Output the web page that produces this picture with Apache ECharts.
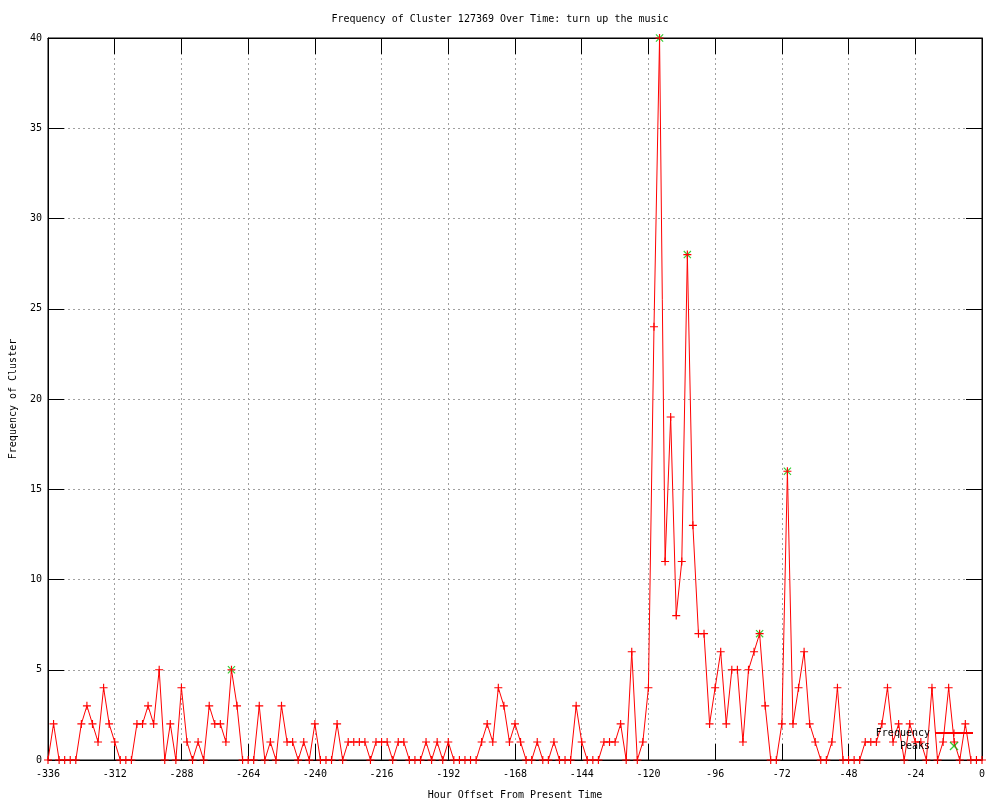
<!DOCTYPE html>
<html>
<head>
<meta charset="utf-8">
<title>Frequency of Cluster 127369 Over Time</title>
<script src="https://cdn.jsdelivr.net/npm/echarts@6/dist/echarts.min.js"></script>
<style>
  html, body { margin: 0; padding: 0; background: #fff; }
  #chart { width: 1000px; height: 800px; }
</style>
</head>
<body>
<div id="chart"></div>
<script>
// one count every 2 hours, from -336 h up to now
const startHour = -336;
const stepHours = 2;

// 12 values = 24 hours per row
const frequency = [
  0, 2, 0, 0, 0, 0, 2, 3, 2, 1, 4, 2,
  1, 0, 0, 0, 2, 2, 3, 2, 5, 0, 2, 0,
  4, 1, 0, 1, 0, 3, 2, 2, 1, 5, 3, 0,
  0, 0, 3, 0, 1, 0, 3, 1, 1, 0, 1, 0,
  2, 0, 0, 0, 2, 0, 1, 1, 1, 1, 0, 1,
  1, 1, 0, 1, 1, 0, 0, 0, 1, 0, 1, 0,
  1, 0, 0, 0, 0, 0, 1, 2, 1, 4, 3, 1,
  2, 1, 0, 0, 1, 0, 0, 1, 0, 0, 0, 3,
  1, 0, 0, 0, 1, 1, 1, 2, 0, 6, 0, 1,
  4, 24, 40, 11, 19, 8, 11, 28, 13, 7, 7, 2,
  4, 6, 2, 5, 5, 1, 5, 6, 7, 3, 0, 0,
  2, 16, 2, 4, 6, 2, 1, 0, 0, 1, 4, 0,
  0, 0, 0, 1, 1, 1, 2, 4, 1, 2, 0, 2,
  1, 1, 0, 4, 0, 1, 4, 1, 0, 2, 0, 0,
  0
];

const peakHours = [-270, -116, -106, -80, -70];
const peakValues = [5, 40, 28, 7, 16];

const font = "DejaVu Sans Mono";
const plusSymbol = "path://M3,0H4V3H7V4H4V7H3V4H0V3H3Z";
const crossSymbol = "path://M0,0.7L0.7,0L7,6.3L6.3,7Z M0,6.3L6.3,0L7,0.7L0.7,7Z";

const freqData = frequency.map((v, i) => [startHour + i * stepHours, v]);
const peakData = peakHours.map((h, i) => [h, peakValues[i]]);

const chart = echarts.init(document.getElementById("chart"));

function tick() {
  return { show: true, inside: true, length: 16, lineStyle: { color: "#000" } };
}
function line() {
  // onZero off, or the mirror axes jump onto the zero lines
  return { show: true, onZero: false, lineStyle: { color: "#000", width: 1 } };
}
const grid = { show: true, lineStyle: { color: "#a0a0a0", type: [2, 3], width: 1 } };

chart.setOption({
  animation: false,
  backgroundColor: "#fff",
  textStyle: { fontFamily: font, color: "#000" },
  title: {
    text: "Frequency of Cluster 127369 Over Time: turn up the music",
    left: "center",
    top: 9,
    textStyle: { fontFamily: font, fontSize: 10, fontWeight: "normal", color: "#000" },
  },
  legend: {
    data: ["Frequency", "Peaks"],
    orient: "vertical",
    align: "right",
    right: 21,
    top: 723,
    itemWidth: 38,
    itemHeight: 9,
    itemGap: 3,
    textStyle: { fontFamily: font, fontSize: 10, color: "#000" },
  },
  grid: {
    left: 48,
    right: 18,
    top: 38,
    bottom: 40,
    outerBoundsMode: "none",
    show: true,
    borderColor: "#000",
    borderWidth: 1,
  },
  xAxis: [
    {
      type: "value",
      min: -336,
      max: 0,
      interval: 24,
      name: "Hour Offset From Present Time",
      nameLocation: "middle",
      nameGap: 30,
      nameTextStyle: { fontFamily: font, fontSize: 10, color: "#000" },
      axisLine: line(),
      axisTick: tick(),
      axisLabel: { margin: 9, fontFamily: font, fontSize: 10, color: "#000" },
      splitLine: grid,
    },
    {
      type: "value",
      position: "top",
      min: -336,
      max: 0,
      interval: 24,
      axisLine: line(),
      axisTick: tick(),
      axisLabel: { show: false },
      splitLine: { show: false },
    },
  ],
  yAxis: [
    {
      type: "value",
      min: 0,
      max: 40,
      interval: 5,
      name: "Frequency of Cluster",
      nameLocation: "middle",
      nameGap: 30,
      nameTextStyle: { fontFamily: font, fontSize: 10, color: "#000" },
      axisLine: line(),
      axisTick: tick(),
      axisLabel: { margin: 6, fontFamily: font, fontSize: 10, color: "#000" },
      splitLine: grid,
    },
    {
      type: "value",
      position: "right",
      min: 0,
      max: 40,
      interval: 5,
      axisLine: line(),
      axisTick: tick(),
      axisLabel: { show: false },
      splitLine: { show: false },
    },
  ],
  series: [
    {
      name: "Frequency",
      type: "line",
      data: freqData,
      symbol: plusSymbol,
      symbolSize: 8,
      showAllSymbol: true,
      lineStyle: { color: "#ff0000", width: 1 },
      itemStyle: { color: "#ff0000" },
      emphasis: { disabled: true },
    },
    {
      name: "Peaks",
      type: "scatter",
      data: peakData,
      symbol: crossSymbol,
      symbolSize: 8,
      itemStyle: { color: "#00c000" },
      emphasis: { disabled: true },
      z: 1,
    },
  ],
});
</script>
</body>
</html>
